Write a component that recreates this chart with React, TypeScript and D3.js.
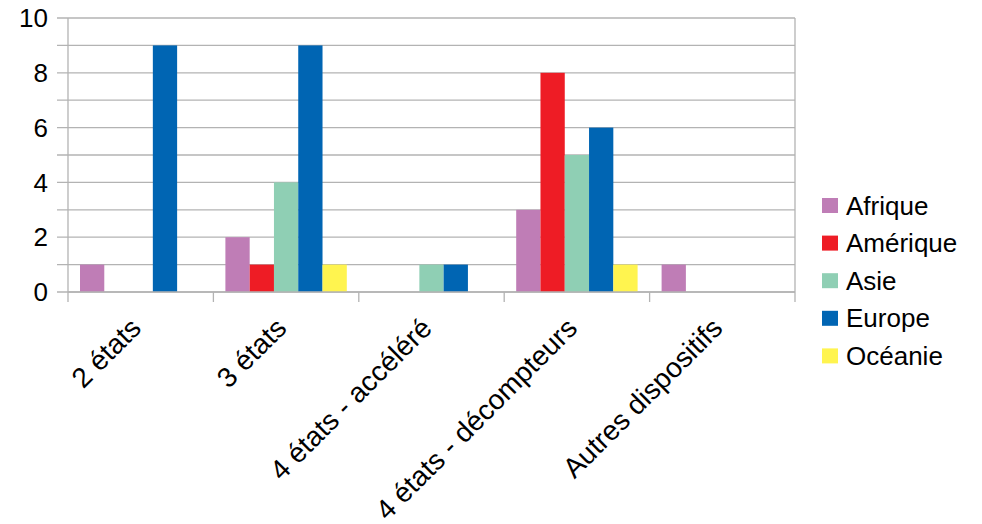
import React, { useEffect, useRef } from 'react';
import * as d3 from 'd3';

const categories = ['2 états', '3 états', '4 états - accéléré', '4 états - décompteurs', 'Autres dispositifs'];
const series = ['Afrique', 'Amérique', 'Asie', 'Europe', 'Océanie'];
const colors = ['#bf7db6', '#ee1c25', '#8fcfb4', '#0065b3', '#fff44f'];
const afrique = [1, 2, 0, 3, 1];
const amerique = [0, 1, 0, 8, 0];
const asie = [0, 4, 1, 5, 0];
const europe = [9, 9, 1, 6, 0];
const oceanie = [0, 1, 0, 1, 0];
const yTicks = [0, 2, 4, 6, 8, 10];

export default function App() {
    const ref = useRef<SVGSVGElement>(null);

    useEffect(() => {
        const values = [afrique, amerique, asie, europe, oceanie];
        const margin = { top: 18, right: 187, bottom: 232, left: 68 },
            width = 982 - margin.left - margin.right,
            height = 524 - margin.top - margin.bottom;

        const root = d3.select(ref.current);
        root.selectAll('*').remove();
        const svg = root.append('g')
            .attr('transform', 'translate(' + margin.left + ',' + margin.top + ')');

        const x = d3.scaleBand().domain(categories).range([0, width]);
        const x1 = d3.scaleBand().domain(series).range([12, x.bandwidth() - 12]);
        const y = d3.scaleLinear().domain([0, 10]).range([height, 0]);

        // grid lines every 1, extending past the axis
        svg.append('g')
            .selectAll('line')
            .data(d3.range(0, 11))
            .enter()
            .append('line')
            .attr('x1', -11)
            .attr('x2', width)
            .attr('y1', d => y(d))
            .attr('y2', d => y(d))
            .attr('stroke', '#b3b3b3')
            .attr('stroke-width', 1.3);

        // y axis line + right border
        svg.append('line').attr('x1', 0).attr('x2', 0).attr('y1', 0).attr('y2', height)
            .attr('stroke', '#b3b3b3').attr('stroke-width', 1.3);
        svg.append('line').attr('x1', width).attr('x2', width).attr('y1', 0).attr('y2', height)
            .attr('stroke', '#b3b3b3').attr('stroke-width', 1.3);

        // y labels
        svg.append('g')
            .selectAll('text')
            .data(yTicks)
            .enter()
            .append('text')
            .attr('x', -20)
            .attr('y', d => y(d))
            .attr('dy', '0.35em')
            .attr('text-anchor', 'end')
            .attr('font-size', 26)
            .attr('fill', '#000')
            .text(d => d);

        // bars
        categories.forEach((c, ci) => {
            svg.append('g')
                .selectAll('rect')
                .data(series)
                .enter()
                .append('rect')
                .attr('x', s => (x(c) as number) + (x1(s) as number))
                .attr('width', x1.bandwidth())
                .attr('y', (s, si) => y(values[si][ci]))
                .attr('height', (s, si) => height - y(values[si][ci]))
                .attr('fill', (s, si) => colors[si]);
        });

        // category ticks
        svg.append('g')
            .selectAll('line')
            .data(d3.range(0, categories.length + 1))
            .enter()
            .append('line')
            .attr('x1', d => d * x.step())
            .attr('x2', d => d * x.step())
            .attr('y1', height)
            .attr('y2', height + 10)
            .attr('stroke', '#b3b3b3')
            .attr('stroke-width', 1.3);

        // x axis line
        svg.append('line').attr('x1', 0).attr('x2', width).attr('y1', height).attr('y2', height)
            .attr('stroke', '#b3b3b3').attr('stroke-width', 1.3);

        // category labels
        svg.append('g')
            .selectAll('text')
            .data(categories)
            .enter()
            .append('text')
            .attr('transform', d => 'translate(' + ((x(d) as number) + x.bandwidth() / 2 - 5) + ',' + (height + 31) + ') rotate(-45)')
            .attr('text-anchor', 'end')
            .attr('dy', '0.35em')
            .attr('font-size', 28)
            .attr('fill', '#000')
            .text(d => d);

        // legend
        const legend = root.append('g').attr('transform', 'translate(822,198)');
        series.forEach((s, i) => {
            legend.append('rect')
                .attr('x', 0)
                .attr('y', i * 37.6)
                .attr('width', 16)
                .attr('height', 15)
                .attr('fill', colors[i]);
            legend.append('text')
                .attr('x', 24)
                .attr('y', i * 37.6 + 7.5)
                .attr('dy', '0.35em')
                .attr('font-size', 26)
                .attr('fill', '#000')
                .text(s);
        });
    }, []);

    return (
        <svg ref={ref} width={982} height={524}
            style={{ position: 'absolute', left: 0, top: 0, fontFamily: '"Liberation Sans", Arial, sans-serif', background: '#fff' }} />
    );
}
